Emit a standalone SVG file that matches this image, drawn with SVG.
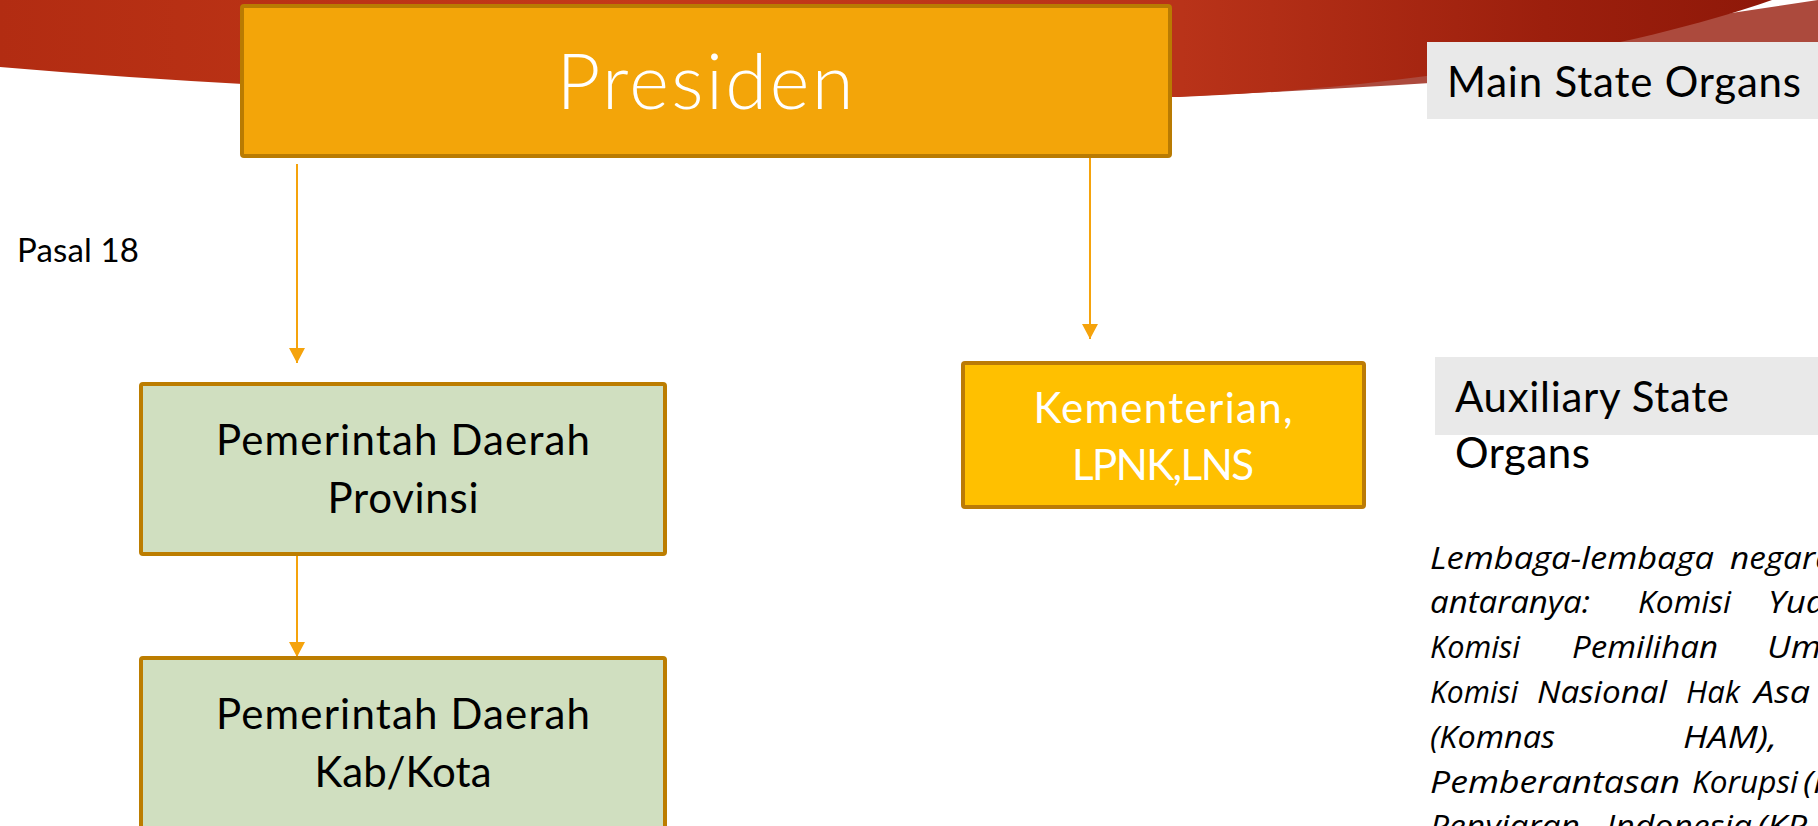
<svg xmlns="http://www.w3.org/2000/svg" width="1818" height="826" viewBox="0 0 1818 826">
<defs>
<style>
.lbl{font-family:Lato,"Liberation Sans",sans-serif;}
.box-main{fill:#F3A509;stroke:#B97B02;stroke-width:4;}
.box-kem{fill:#FFC000;stroke:#BB7B06;stroke-width:4;}
.box-green{fill:#D0DFC0;stroke:#BC7D00;stroke-width:4;}
.grey{fill:#E9E9E9;}
.conn{stroke:#F5A30C;stroke-width:2;fill:none;marker-end:url(#arr);}
.dark{fill:#000000;font-size:42px;}
.white{fill:#FFFFFF;}
.para{font-family:"Open Sans","Liberation Sans",sans-serif;font-style:italic;font-size:31px;fill:#000000;}
</style>
<linearGradient id="banner" x1="0" y1="0" x2="1818" y2="0" gradientUnits="userSpaceOnUse">
<stop offset="0" stop-color="#B22C12"/>
<stop offset="0.35" stop-color="#C43A19"/>
<stop offset="0.65" stop-color="#B93319"/>
<stop offset="0.85" stop-color="#9C1F0D"/>
<stop offset="1" stop-color="#8C1708"/>
</linearGradient>
<marker id="arr" viewBox="0 0 15 16" refX="15" refY="8" markerWidth="15" markerHeight="16" markerUnits="userSpaceOnUse" orient="auto">
<path d="M0,0 L15,8 L0,16 Z" fill="#F5A30C"/>
</marker>
</defs>

<g id="banner-bg">
<path d="M1170,97 Q1500,82 1818,55 L1818,0 Z" fill="#AC4A3D"/>
<path d="M0,0 L1772,0 C1600,60 1350,92 1170,97 Q500,110 0,67 Z" fill="url(#banner)"/>
</g>

<g id="connectors">
<line class="conn" x1="297" y1="164" x2="297" y2="363"/>
<line class="conn" x1="297" y1="556" x2="297" y2="657"/>
<line class="conn" x1="1090" y1="158" x2="1090" y2="339"/>
</g>

<g id="node-presiden">
<rect class="box-main" x="242" y="6" width="928" height="150" rx="2"/>
<text class="lbl white" x="705" y="109" font-size="76" font-weight="300" text-anchor="middle" textLength="297">Presiden</text>
</g>

<g id="label-pasal18">
<text class="lbl" x="17" y="262" font-size="33" fill="#000" textLength="122">Pasal 18</text>
</g>

<g id="node-provinsi">
<rect class="box-green" x="141" y="384" width="524" height="170" rx="2"/>
<text class="lbl dark" x="403" y="455" text-anchor="middle" textLength="374">Pemerintah Daerah</text>
<text class="lbl dark" x="403" y="513" text-anchor="middle" textLength="151">Provinsi</text>
</g>

<g id="node-kabkota">
<rect class="box-green" x="141" y="658" width="524" height="180" rx="2"/>
<text class="lbl dark" x="403" y="729" text-anchor="middle" textLength="374">Pemerintah Daerah</text>
<text class="lbl dark" x="403" y="787" text-anchor="middle" textLength="177">Kab/Kota</text>
</g>

<g id="node-kementerian">
<rect class="box-kem" x="963" y="363" width="401" height="144" rx="2"/>
<text class="lbl white" x="1163" y="423" font-size="42" text-anchor="middle" textLength="259">Kementerian,</text>
<text class="lbl white" x="1163" y="480" font-size="42" text-anchor="middle" textLength="182">LPNK,LNS</text>
</g>

<g id="node-main-state">
<rect class="grey" x="1427" y="42" width="400" height="77"/>
<text class="lbl dark" x="1447" y="97" textLength="354">Main State Organs</text>
</g>

<g id="node-auxiliary">
<rect class="grey" x="1435" y="357" width="390" height="78"/>
<text class="lbl dark" x="1455" y="412" textLength="274">Auxiliary State</text>
<text class="lbl dark" x="1455" y="468" textLength="135">Organs</text>
</g>

<g id="auxiliary-desc" class="para">
<text class="para" x="1430" y="569" textLength="284" lengthAdjust="spacingAndGlyphs">Lembaga-lembaga</text>
<text class="para" x="1730" y="569" textLength="104" lengthAdjust="spacingAndGlyphs">negara</text>
<text class="para" x="1430" y="613" textLength="160" lengthAdjust="spacingAndGlyphs">antaranya:</text>
<text class="para" x="1638" y="613" textLength="93" lengthAdjust="spacingAndGlyphs">Komisi</text>
<text class="para" x="1768" y="613" textLength="58" lengthAdjust="spacingAndGlyphs">Yud</text>
<text class="para" x="1430" y="658" textLength="90" lengthAdjust="spacingAndGlyphs">Komisi</text>
<text class="para" x="1572" y="658" textLength="146" lengthAdjust="spacingAndGlyphs">Pemilihan</text>
<text class="para" x="1767" y="658" textLength="54" lengthAdjust="spacingAndGlyphs">Um</text>
<text class="para" x="1430" y="703" textLength="88" lengthAdjust="spacingAndGlyphs">Komisi</text>
<text class="para" x="1537" y="703" textLength="130" lengthAdjust="spacingAndGlyphs">Nasional</text>
<text class="para" x="1686" y="703" textLength="54" lengthAdjust="spacingAndGlyphs">Hak</text>
<text class="para" x="1754" y="703" textLength="56" lengthAdjust="spacingAndGlyphs">Asa</text>
<text class="para" x="1430" y="748" textLength="125" lengthAdjust="spacingAndGlyphs">(Komnas</text>
<text class="para" x="1683" y="748" textLength="94" lengthAdjust="spacingAndGlyphs">HAM),</text>
<text class="para" x="1430" y="793" textLength="250" lengthAdjust="spacingAndGlyphs">Pemberantasan</text>
<text class="para" x="1692" y="793" textLength="106" lengthAdjust="spacingAndGlyphs">Korupsi</text>
<text class="para" x="1803" y="793" textLength="30" lengthAdjust="spacingAndGlyphs">(K</text>
<text class="para" x="1430" y="837" textLength="150" lengthAdjust="spacingAndGlyphs">Penyiaran</text>
<text class="para" x="1606" y="837" textLength="146" lengthAdjust="spacingAndGlyphs">Indonesia</text>
<text class="para" x="1757" y="837" textLength="50" lengthAdjust="spacingAndGlyphs">(KP</text>
</g>
</svg>
